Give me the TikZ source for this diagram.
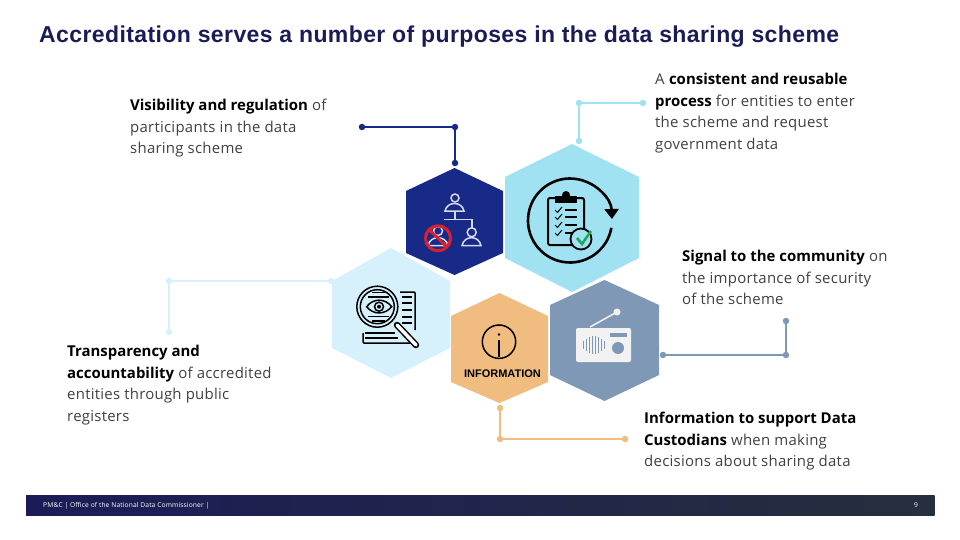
\documentclass[tikz,border=0pt]{standalone}
\usepackage{fontspec}
\setmainfont{Open Sans}[LetterSpace=1.7,BoldFeatures={LetterSpace=0}]
\newfontfamily\titlefont[LetterSpace=1.75]{Liberation Sans}
\newfontfamily\arialfont{Liberation Sans}
\usetikzlibrary{arrows.meta}
\definecolor{navyhex}{HTML}{172A88}
\definecolor{skyhex}{HTML}{A0E1F2}
\definecolor{palehex}{HTML}{D6F1FC}
\definecolor{orangehex}{HTML}{F0BC7F}
\definecolor{slatehex}{HTML}{7F98B5}
\definecolor{bodygrey}{HTML}{404040}
\definecolor{titlenavy}{HTML}{1A1C57}
\definecolor{iconwhite}{HTML}{F2F2F2}
\definecolor{peoplegrey}{HTML}{D5D9EA}
\definecolor{banred}{HTML}{D9202F}
\definecolor{tickgreen}{HTML}{1FA855}
\definecolor{footleft}{HTML}{1A1C57}
\definecolor{footright}{HTML}{252F3D}
\newcommand{\hexagon}[8]{\fill[#1] (#2,#4) -- (#3,#5) -- (#3,#6) -- (#2,#7) -- (#8,#6) -- (#8,#5) -- cycle;}
\newcommand{\boldpart}[1]{\textbf{\color{black}#1}}
\begin{document}
\begin{tikzpicture}[x=1pt,y=-1pt]
        \tikzset{dot/.style = {shape=circle,inner sep=0pt,minimum size=6.5pt}}
        \tikzset{bodytext/.style = {anchor=north west,align=left,inner sep=0pt,text=bodygrey,font=\fontsize{14.95}{21.6}\selectfont}}
        \tikzset{link/.style = {line width=2pt}}
        \tikzset{iconline/.style = {line width=1.5pt}}
        \useasboundingbox (0,0) rectangle (960,540);
        % title
        \node[anchor=west,inner sep=0pt,font=\titlefont\bfseries\fontsize{23}{26}\selectfont,text=titlenavy] (title) at (39,37) {Accreditation serves a number of purposes in the data sharing scheme};
        % hexagons
        \hexagon{navyhex}{454.5}{503}{168}{191}{253}{275}{406}
        \hexagon{skyhex}{572}{639}{144}{177}{258}{292}{505}
        \hexagon{palehex}{391}{450}{248}{281}{348}{378}{332}
        \hexagon{orangehex}{499.5}{548}{293}{316}{382}{403}{451}
        \hexagon{slatehex}{604.5}{659}{280}{305}{375}{401}{550}
        % vertices
        \node[dot,fill=navyhex] (n1) at (362,127) {};
        \node[dot,fill=navyhex] (n2) at (455,127) {};
        \node[dot,fill=navyhex] (n3) at (455,163) {};
        \node[dot,fill=skyhex] (s1) at (643,103) {};
        \node[dot,fill=skyhex] (s2) at (579,103) {};
        \node[dot,fill=skyhex] (s3) at (579,141) {};
        \node[dot,fill=palehex] (p1) at (331,281) {};
        \node[dot,fill=palehex] (p2) at (169,281) {};
        \node[dot,fill=palehex] (p3) at (169,332) {};
        \node[dot,fill=slatehex] (r1) at (663,355) {};
        \node[dot,fill=slatehex] (r2) at (786,355) {};
        \node[dot,fill=slatehex] (r3) at (786,321) {};
        \node[dot,fill=orangehex] (o1) at (500,408) {};
        \node[dot,fill=orangehex] (o2) at (500,439) {};
        \node[dot,fill=orangehex] (o3) at (625,439) {};
        % edges
        \draw[link,navyhex] (n1) -- (n2) -- (n3);
        \draw[link,skyhex] (s1) -- (s2) -- (s3);
        \draw[link,palehex] (p1) -- (p2) -- (p3);
        \draw[link,slatehex] (r1) -- (r2) -- (r3);
        \draw[link,orangehex] (o1) -- (o2) -- (o3);
        % texts
        \node[bodytext] (visibility) at (130,99) {\boldpart{Visibility and regulation} of\\participants in the data\\sharing scheme};
        \node[bodytext] (process) at (655,73) {A \boldpart{consistent and reusable}\\\boldpart{process} for entities to enter\\the scheme and request\\government data};
        \node[bodytext] (signal) at (682,250) {\boldpart{Signal to the community} on\\the importance of security\\of the scheme};
        \node[bodytext] (transparency) at (67,345) {\boldpart{Transparency and}\\\boldpart{accountability} of accredited\\entities through public\\registers};
        \node[bodytext] (custodians) at (644,412) {\boldpart{Information to support Data}\\\boldpart{Custodians} when making\\decisions about sharing data};
        % people icon
        \begin{scope}[peoplegrey,iconline]
        \draw (455,198) circle (4);
        \draw (445,211) .. controls (447,201) and (462,201) .. (464,211) -- cycle;
        \draw (455,211) -- (455,219.5) (444,219.5) -- (472,219.5) -- (472,228);
        \draw (471.7,232.3) circle (4.5);
        \draw (462,245.7) .. controls (464,235) and (479,235) .. (481,245.7) -- cycle;
        \draw (438,231) circle (4.5);
        \draw (428,245.7) .. controls (430,235) and (446,235) .. (448,245.7) -- cycle;
        \end{scope}
        \draw[banred,line width=3pt] (438,238.3) circle (12.5) (429,229.5) -- (447,247);
        % checklist icon
        \draw[line width=2.6pt,-{Triangle[length=10pt,width=14pt]}] (570,220.5) ++(10:42) arc (10:358:42);
        \draw[line width=2pt,rounded corners=2pt] (548,198) rectangle (584,245);
        \fill[black] (555,196) rectangle (577,203);
        \fill[black] (566,195) circle (4);
        \foreach \rowy in {210,217,225,233} {
                \draw[line width=1pt] (555,\rowy) -- (557.5,\rowy+2.5) -- (562,\rowy-3);
                \draw[line width=1.6pt] (565,\rowy) -- (577,\rowy);
        }
        \draw[line width=1.8pt,fill=skyhex] (581,239) circle (10.5);
        \draw[tickgreen,line width=2.6pt] (577,238) -- (582,244) -- (591,231);
        % magnifier icon
        \draw[iconline,rounded corners=1pt] (400,292) -- (415,292) -- (415,330) (410,343) -- (363,343) -- (363,333);
        \foreach \rowy in {297,303,310,317,323} {
                \draw[iconline] (402,\rowy) -- (412,\rowy);
        }
        \draw[iconline] (365,333) -- (395,333) (365,338) -- (398,338);
        \draw[iconline,fill=palehex] (377.3,306.7) circle (20.5);
        \draw[iconline] (377.3,306.7) circle (17);
        \draw[iconline] (366.7,306.7) .. controls (373,298) and (385,298) .. (391.7,306.7) .. controls (385,315) and (373,315) .. (366.7,306.7) -- cycle;
        \draw[iconline] (379,306.7) circle (4.5);
        \fill (379,306.7) circle (2);
        \draw[iconline] (372,292.5) -- (385,292.5) (368,297) -- (389,297) (368,316.5) -- (389,316.5) (372,321) -- (385,321);
        \draw[line width=6.5pt,line cap=round] (397,325) -- (416,345);
        \draw[line width=3.5pt,line cap=round,white] (397,325) -- (416,345);
        % info icon
        \draw[iconline] (499,341.7) circle (16.7);
        \fill (499,334.5) circle (1.4);
        \draw[line width=1.8pt] (499,340) -- (499,357);
        \node[font=\arialfont\bfseries\fontsize{11}{12}\selectfont,inner sep=0pt] (info) at (502.5,374) {INFORMATION};
        % radio icon
        \fill[iconwhite,rounded corners=2pt] (576,328) rectangle (631,362);
        \draw[iconwhite,iconline] (590,327) -- (617,312);
        \fill[iconwhite] (617,312) circle (3.5);
        \foreach \grillx/\grillh in {583/4,586/6,589/8,592/9,595/9,598/8,601/6,604/4} {
                \draw[slatehex,line width=0.9pt] (\grillx,345-\grillh) -- (\grillx,345+\grillh);
        }
        \fill[slatehex] (610,333) rectangle (627,337);
        \fill[slatehex] (618,348) circle (6);
        % footer
        \shade[left color=footleft,right color=footright] (26,495) rectangle (934.5,515);
        \node[anchor=west,inner sep=0pt,text=white,font=\fontsize{6.7}{8}\selectfont] (office) at (43,505.5) {PM\&C | Office of the National Data Commissioner |};
        \node[inner sep=0pt,text=white,font=\fontsize{6.7}{8}\selectfont] (page) at (916,505.5) {9};
        \end{tikzpicture}
\end{document}
